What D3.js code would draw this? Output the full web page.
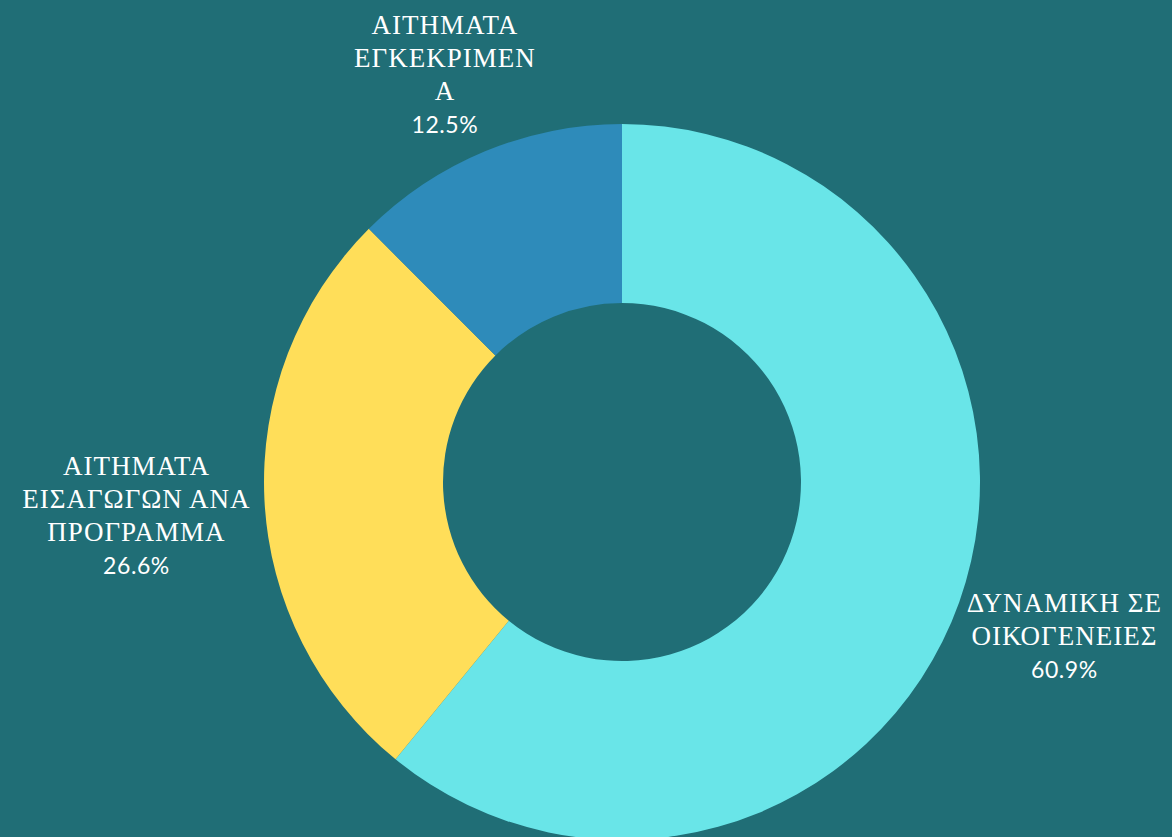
<!DOCTYPE html>
<html>
<head>
<meta charset="utf-8">
<script src="https://cdn.jsdelivr.net/npm/d3@7"></script>
<style>
  html, body { margin: 0; padding: 0; background: #206e76; }
  svg { display: block; }
</style>
</head>
<body>
<div id="chart"></div>
<script>
// chart data
var categories = [
  ["ΔΥΝΑΜΙΚΗ ΣΕ", "ΟΙΚΟΓΕΝΕΙΕΣ"],
  ["ΑΙΤΗΜΑΤΑ", "ΕΙΣΑΓΩΓΩΝ ΑΝΑ", "ΠΡΟΓΡΑΜΜΑ"],
  ["ΑΙΤΗΜΑΤΑ", "ΕΓΚΕΚΡΙΜΕΝ", "Α"]
];
var values = [60.9, 26.6, 12.5];
var colors = ["#69e5e8", "#ffde59", "#2e8bba"];

var width = 1172;
var height = 837;
var cx = 622, cy = 482;
var outer = 358, inner = 179;
var labelRadius = 372;
var lineHeight = 33;

var svg = d3.select("#chart").append("svg")
  .attr("width", width)
  .attr("height", height);

var g = svg.append("g")
  .attr("transform", "translate(" + cx + "," + cy + ")");

var pie = d3.pie().sort(null).value(function(d) { return d; });
var arc = d3.arc().innerRadius(inner).outerRadius(outer);

var arcs = pie(values);

g.selectAll("path.slice")
  .data(arcs)
  .enter().append("path")
  .attr("class", "slice")
  .attr("d", arc)
  .attr("fill", function(d, i) { return colors[i]; });

arcs.forEach(function(d, i) {
  var lines = categories[i];
  var label = g.append("g");

  lines.forEach(function(t, j) {
    label.append("text")
      .text(t)
      .attr("x", 0)
      .attr("y", j * lineHeight)
      .attr("text-anchor", "middle")
      .attr("dominant-baseline", "central")
      .attr("font-family", "'Liberation Serif', serif")
      .attr("font-size", 27)
      .attr("letter-spacing", 1)
      .attr("fill", "#ffffff");
  });

  label.append("text")
    .text(values[i].toFixed(1) + "%")
    .attr("x", 0)
    .attr("y", lines.length * lineHeight)
    .attr("text-anchor", "middle")
    .attr("dominant-baseline", "central")
    .attr("font-family", "Lato, sans-serif")
    .attr("font-size", 23)
    .attr("letter-spacing", 0.6)
    .attr("fill", "#ffffff");

  // place the block just outside the ring, on the slice's mid angle
  var box = label.node().getBBox();
  var w = box.width, h = (lines.length + 1) * lineHeight;
  var mid = (d.startAngle + d.endAngle) / 2;
  var s = Math.sin(mid), c = Math.cos(mid);
  var bx = s * labelRadius + s * w / 2;
  var by = -c * labelRadius - Math.sign(c) * Math.sqrt(Math.abs(c)) * h / 2;
  label.attr("transform", "translate(" + bx + "," + (by - lines.length * lineHeight / 2) + ")");
});
</script>
</body>
</html>
